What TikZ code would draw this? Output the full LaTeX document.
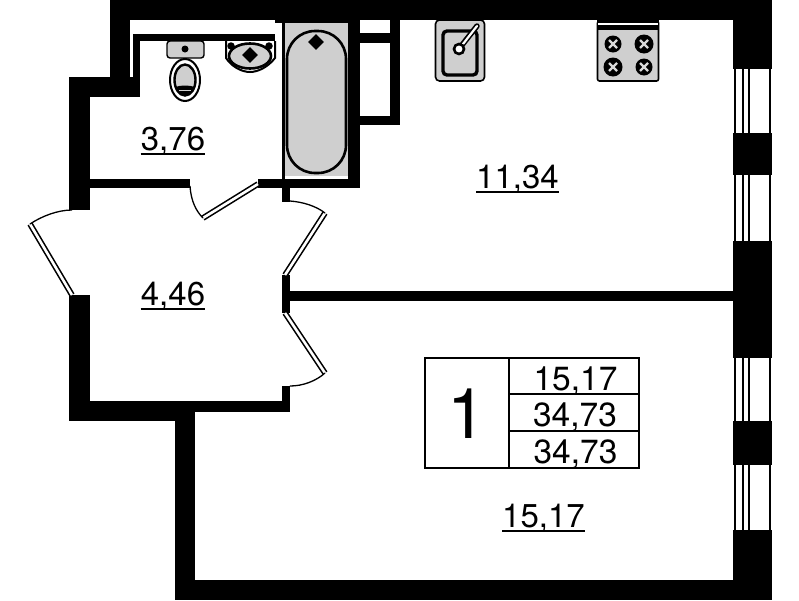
\documentclass[tikz,border=0pt]{standalone}
\usepackage{fontspec}
\setmainfont{TeX Gyre Heros}
\usetikzlibrary{shapes.geometric}
\definecolor{fixgrey}{HTML}{CFCFCF}
\tikzset{
wall/.style={fill=black},
leaf/.style={draw=black, line width=1.6, double=white, double distance=2.6},
swing/.style={draw=black, line width=1.3},
sash/.style={draw=black, line width=1.9},
fixture/.style={draw=black, fill=fixgrey, line width=1.6},
areatext/.style={inner sep=0, anchor=base, font=\fontsize{33}{33}\selectfont},
celltext/.style={inner sep=0, anchor=base, font=\fontsize{33.5}{33.5}\selectfont},
arealine/.style={draw=black, line width=2.2},
dmd/.style={diamond, fill=black, inner sep=0, minimum size=16},
burner/.style={circle, fill=black, inner sep=0},
}
\begin{document}
\begin{tikzpicture}[x=1pt, y=-1pt]
\useasboundingbox (0,0) rectangle (799,600);
\fill[white] (0,0) rectangle (799,600);
\fill[wall] (110,0) rectangle (772,20);
\fill[wall] (110,0) rectangle (130,97);
\fill[wall] (69,77) rectangle (140,97);
\fill[wall] (133,34) rectangle (140,97);
\fill[wall] (133,34) rectangle (275,41);
\fill[wall] (275,20) rectangle (348,23);
\fill[wall] (69,77) rectangle (90,210);
\fill[wall] (69,295) rectangle (90,421);
\fill[wall] (69,401) rectangle (195,421);
\fill[wall] (175,401) rectangle (290,412);
\fill[wall] (175,401) rectangle (195,600);
\fill[wall] (175,580) rectangle (772,600);
\fill[wall] (282,386) rectangle (290,412);
\fill[wall] (90,179) rectangle (190,188);
\fill[wall] (258,179) rectangle (360,188);
\fill[wall] (282,20) rectangle (285,188);
\fill[wall] (282,179) rectangle (290,202);
\fill[wall] (348,20) rectangle (360,188);
\fill[wall] (360,33) rectangle (400,43);
\fill[wall] (390,20) rectangle (400,125);
\fill[wall] (360,116) rectangle (400,125);
\fill[wall] (282,275) rectangle (290,313);
\fill[wall] (290,291) rectangle (733,301);
\fill[wall] (733,0) rectangle (772,69);
\fill[wall] (733,133) rectangle (772,175);
\fill[wall] (733,241) rectangle (772,358);
\fill[wall] (733,421) rectangle (772,465);
\fill[wall] (733,530) rectangle (772,600);
\draw[sash] (735,69) -- (735,133);
\draw[sash] (743,69) -- (743,133);
\draw[sash] (749,69) -- (749,133);
\draw[sash] (770,69) -- (770,133);
\draw[sash] (735,175) -- (735,241);
\draw[sash] (743,175) -- (743,241);
\draw[sash] (749,175) -- (749,241);
\draw[sash] (770,175) -- (770,241);
\draw[sash] (735,358) -- (735,421);
\draw[sash] (743,358) -- (743,421);
\draw[sash] (749,358) -- (749,421);
\draw[sash] (770,358) -- (770,421);
\draw[sash] (735,465) -- (735,530);
\draw[sash] (743,465) -- (743,530);
\draw[sash] (749,465) -- (749,530);
\draw[sash] (770,465) -- (770,530);
\draw[leaf] (258,184) -- (203,218);
\draw[swing] (190,186) .. controls (191,201) and (196,211) .. (203,218);
\draw[leaf] (285,275) -- (325,213);
\draw[swing] (290,201) .. controls (303,202) and (316,206) .. (325,213);
\draw[leaf] (285,313) -- (325,373);
\draw[swing] (290,386) .. controls (303,386) and (316,381) .. (325,373);
\draw[leaf] (72,295) -- (30,224);
\draw[swing] (72,210) .. controls (58,210) and (42,216) .. (30,224);
\fill[fixgrey] (285,23) rectangle (348,176);
\draw[black, line width=2.6, rounded corners=28] (287,31) rectangle (346,173);
\node[dmd] (bathdrain) at (316,42){};
\draw[fixture, line width=1.4, rounded corners=3] (167,41) rectangle (204,58);
\node[circle, fill, inner sep=0, minimum size=7] (tankdot) at (185,49){};
\draw[black, fill=white, line width=2] (185,80) ellipse (15 and 21);
\draw[fixture, line width=2.4] (185,80) ellipse (10.5 and 15.5);
\fill[black] (175.5,87) .. controls (180,85) and (190,85) .. (194.5,87) .. controls (192,93) and (189,95) .. (185,95) .. controls (181,95) and (178,93) .. (175.5,87);
\fill[fixgrey] (179,89.5) rectangle (191,91);
\draw[black, fill=white, line width=2] (226,41) -- (226,58) .. controls (232,67) and (242,72) .. (250,72) .. controls (258,72) and (268,67) .. (275,58) -- (275,41);
\draw[fixture, line width=2.6] (250,56) ellipse (21 and 12.5);
\node[dmd] (basindrain) at (250,55){};
\node[circle, fill, inner sep=0, minimum size=7.5] (basintapl) at (231,46){};
\node[circle, fill, inner sep=0, minimum size=7.5] (basintapr) at (269,46){};
\draw[fixture, rounded corners=4] (435.5,20) rectangle (484.5,81);
\draw[black, line width=3.4, rounded corners=4] (443,31) rectangle (477,75);
\draw[black, line width=5.5, line cap=round] (462,45) -- (477,26);
\draw[white, line width=2.2, line cap=round] (463,44) -- (477,26);
\node[circle, draw=black, fill=white, line width=2.6, minimum size=10, inner sep=0] (sinktap) at (459,49){};
\draw[fixture, rounded corners=2] (597.5,21) rectangle (658.5,81);
\fill[black] (597,20) rectangle (659,23);
\fill[white] (598,23) rectangle (658,24.5);
\fill[black] (597,24.5) rectangle (659,30);
\node[burner, minimum size=17] (hob0) at (613,44){};
\node[burner, minimum size=19] (hob1) at (644,44){};
\node[burner, minimum size=19] (hob2) at (613,67){};
\node[burner, minimum size=17] (hob3) at (644,67){};
\draw[white!85!black, line width=2.4] (609,40) -- (617,48) (609,48) -- (617,40);
\draw[white!85!black, line width=2.4] (640,40) -- (648,48) (640,48) -- (648,40);
\draw[white!85!black, line width=2.4] (609,63) -- (617,71) (609,71) -- (617,63);
\draw[white!85!black, line width=2.4] (640,63) -- (648,71) (640,71) -- (648,63);
\node[areatext] (lab0) at (173,150){3,76};
\node[areatext] (lab1) at (517.5,188){11,34};
\node[areatext] (lab2) at (173,305){4,46};
\node[areatext] (lab3) at (543.5,527){15,17};
\draw[arealine] ([yshift=-4]lab0.base west) -- ([yshift=-4]lab0.base east);
\draw[arealine] ([yshift=-4]lab1.base west) -- ([yshift=-4]lab1.base east);
\draw[arealine] ([yshift=-4]lab2.base west) -- ([yshift=-4]lab2.base east);
\draw[arealine] ([yshift=-4]lab3.base west) -- ([yshift=-4]lab3.base east);
\draw[black, line width=2] (425,358) rectangle (639,468);
\draw[black, line width=2] (509,358) -- (509,468);
\draw[black, line width=2] (509,394) -- (639,394);
\draw[black, line width=2] (509,431) -- (639,431);
\node[inner sep=0, anchor=base, font=\fontsize{70}{70}\selectfont] (cell0) at (467,438){1};
\node[celltext] (cell1) at (575.5,390){15,17};
\node[celltext] (cell2) at (575,426){34,73};
\node[celltext] (cell3) at (575.5,463){34,73};
\end{tikzpicture}
\end{document}
